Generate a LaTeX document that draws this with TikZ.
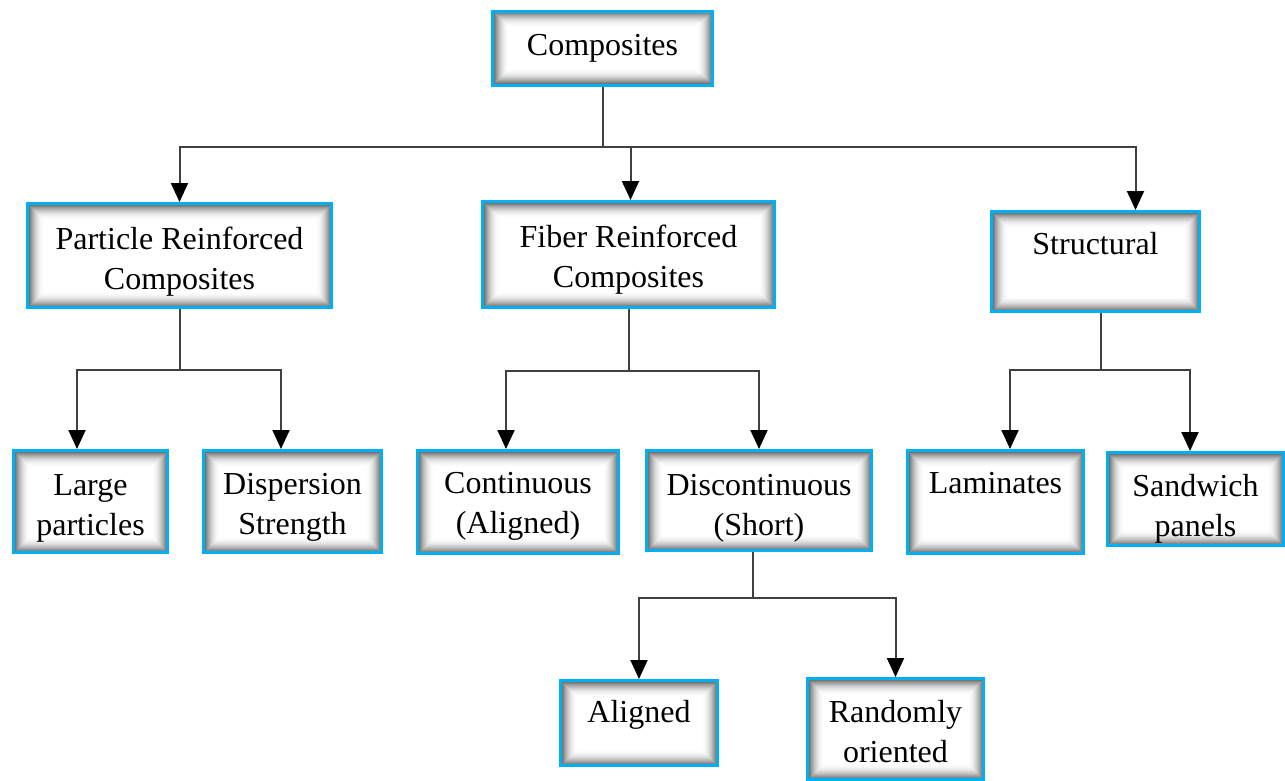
\documentclass[tikz,border=0pt]{standalone}
\usepackage{fontspec}
\setmainfont{Liberation Serif}
\usetikzlibrary{arrows.meta}

\definecolor{boxblue}{RGB}{0,176,240}
\newcommand{\topgap}[1]{\rule{0pt}{#1}}
\tikzset{
  box/.style={draw=boxblue, line width=1.5pt, fill=white, align=center,
    font=\fontsize{16}{20}\selectfont, inner sep=0pt,
    path picture={
      \foreach \i [evaluate=\i as \c using 62*(1-\i/16)^2, evaluate=\i as \d using 0.5*\i] in {0,...,16}
        \fill[black!\c] ([shift={(\d pt,\d pt)}]path picture bounding box.south west)
          rectangle ([shift={(-\d pt,-\d pt)}]path picture bounding box.north east);
    }},
  link/.style={draw=black!75, line width=1pt},
  arr/.style={link, -{Triangle[width=8.5pt,length=9.5pt,color=black]}}
}

\begin{document}
\begin{tikzpicture}[x=0.5pt,y=-0.5pt]
      \useasboundingbox (0,0) rectangle (1285,781);

      % top
      \node[box, minimum width=110pt, minimum height=37pt] (comp) at (602.5,48.5) {Composites};

      % second row
      \node[box, minimum width=152pt, minimum height=52pt] (part) at (179.5,255.5) {\topgap{17pt}Particle Reinforced\\Composites};
      \node[box, minimum width=146pt, minimum height=53pt] (fiber) at (628.5,254.5) {\topgap{16.5pt}Fiber Reinforced\\Composites};
      \node[box, minimum width=104pt, minimum height=50pt, text depth=18pt] (struct) at (1095.5,261.5) {Structural};

      % third row
      \node[box, minimum width=77pt, minimum height=51pt] (large) at (90.5,501.5) {\topgap{17pt}Large\\particles};
      \node[box, minimum width=89pt, minimum height=51pt] (disp) at (292.5,501.5) {\topgap{16pt}Dispersion\\Strength};
      \node[box, minimum width=100.5pt, minimum height=51.5pt] (cont) at (518,502) {\topgap{15pt}Continuous\\(Aligned)};
      \node[box, minimum width=112.5pt, minimum height=50pt] (disc) at (759,500.5) {\topgap{18pt}Discontinuous\\(Short)};
      \node[box, minimum width=88pt, minimum height=51.5pt, text depth=19pt] (lam) at (995.5,502) {Laminates};
      \node[box, minimum width=88pt, minimum height=46.5pt] (sand) at (1195.5,499) {\topgap{21pt}Sandwich\\panels};

      % bottom row
      \node[box, minimum width=78.5pt, minimum height=42.5pt, text depth=11.4pt] (align) at (639,723) {Aligned};
      \node[box, minimum width=88pt, minimum height=50.5pt] (rand) at (895.5,729) {\topgap{14pt}Randomly\\oriented};

      % connectors
      \draw[link] (comp.south) -- ++(0,60) coordinate (cj);
      \draw[arr] (cj) -| (part.north);
      \draw[arr] (cj) -| ([xshift=1pt]fiber.north);
      \draw[arr] (cj) -| ([xshift=20pt]struct.north);

      \draw[link] (part.south) -- ++(0,61) coordinate (pj);
      \draw[arr] (pj) -| ([xshift=-6.75pt]large.north);
      \draw[arr] (pj) -| ([xshift=-5.75pt]disp.north);

      \draw[link] (fiber.south) -- ++(0,62) coordinate (fj);
      \draw[arr] (fj) -| ([xshift=-6pt]cont.north);
      \draw[arr] (fj) -| (disc.north);

      \draw[link] ([xshift=2.75pt]struct.south) -- ++(0,57) coordinate (sj);
      \draw[arr] (sj) -| ([xshift=7.25pt]lam.north);
      \draw[arr] (sj) -| ([xshift=-2.75pt]sand.north);

      \draw[link] ([xshift=-3pt]disc.south) -- ++(0,46) coordinate (dj);
      \draw[arr] (dj) -| (align.north);
      \draw[arr] (dj) -| (rand.north);
    \end{tikzpicture}
\end{document}
